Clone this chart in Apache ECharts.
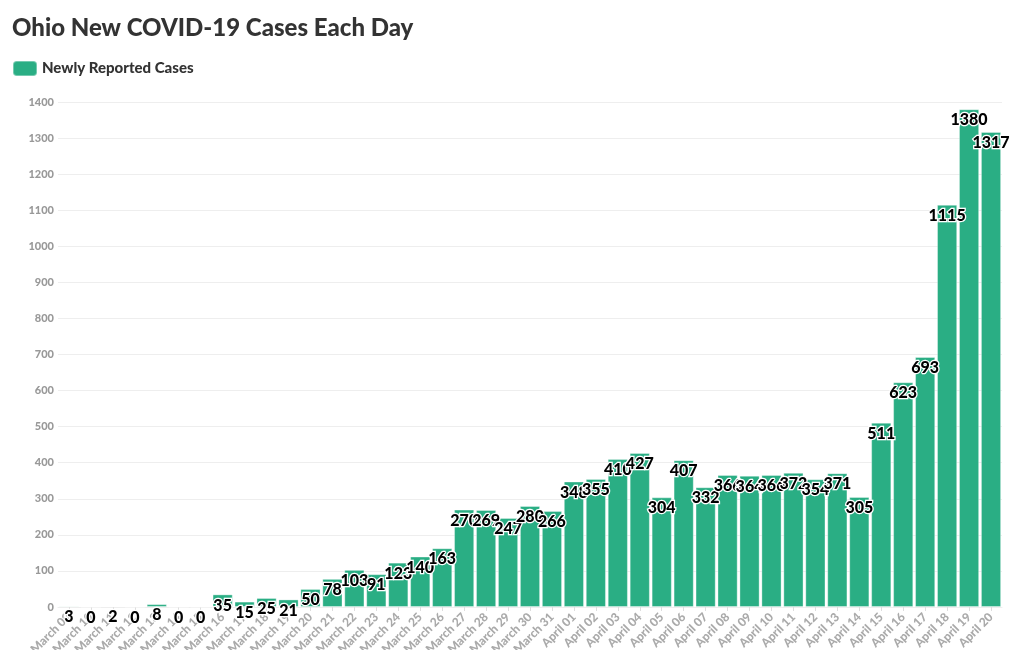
<!DOCTYPE html>
<html>
<head>
<meta charset="utf-8">
<script src="https://cdn.jsdelivr.net/npm/echarts@6/dist/echarts.min.js"></script>
<style>
  html, body { margin: 0; padding: 0; background: #fff; }
  #chart { width: 1022px; height: 650px; }
</style>
</head>
<body>
<div id="chart"></div>
<script>
var days = [
  "March 09", "March 10", "March 11", "March 12", "March 13", "March 14", "March 15",
  "March 16", "March 17", "March 18", "March 19", "March 20", "March 21", "March 22",
  "March 23", "March 24", "March 25", "March 26", "March 27", "March 28", "March 29",
  "March 30", "March 31", "April 01", "April 02", "April 03", "April 04", "April 05",
  "April 06", "April 07", "April 08", "April 09", "April 10", "April 11", "April 12",
  "April 13", "April 14", "April 15", "April 16", "April 17", "April 18", "April 19",
  "April 20"
];
var newCases = [
  3, 0, 2, 0, 8, 0, 0,
  35, 15, 25, 21, 50, 78, 103,
  91, 123, 140, 163, 270, 269, 247,
  280, 266, 348, 355, 410, 427, 304,
  407, 332, 366, 364, 366, 372, 354,
  371, 305, 511, 623, 693, 1115, 1380,
  1317
];
var seriesName = "Newly Reported Cases";

var chart = echarts.init(document.getElementById("chart"));
var option = {
  animation: false,
  textStyle: { fontFamily: "Lato" },
  title: {
    text: "Ohio New COVID-19 Cases Each Day",
    left: 7,
    top: 11,
    textStyle: { fontFamily: "Lato", fontSize: 24, fontWeight: 900, color: "#333" }
  },
  legend: {
    left: 7,
    top: 55,
    itemWidth: 24,
    itemHeight: 15,
    itemGap: 6,
    icon: "roundRect",
    textStyle: { fontFamily: "Lato", fontSize: 15, fontWeight: 900, color: "#333" },
    data: [seriesName]
  },
  grid: { left: 58, right: 20, top: 102, bottom: 43, outerBoundsMode: "none" },
  xAxis: {
    type: "category",
    data: days,
    axisLine: { show: true, lineStyle: { color: "#eee" } },
    axisTick: { show: true, alignWithLabel: true, length: 4, lineStyle: { color: "#ddd" } },
    axisLabel: {
      interval: 0,
      rotate: 45,
      color: "#aaa",
      fontWeight: 900,
      fontSize: 12,
      margin: 8
    }
  },
  yAxis: {
    type: "value",
    min: 0,
    max: 1400,
    interval: 100,
    axisLine: { show: false },
    axisTick: { show: false },
    axisLabel: {
      color: "#999",
      fontWeight: 900,
      fontSize: 11,
      margin: 4,
      formatter: function (v) { return String(v); }
    },
    splitLine: { lineStyle: { color: "#eee" } }
  },
  series: [{
    name: seriesName,
    type: "bar",
    data: newCases,
    barCategoryGap: "8%",
    itemStyle: {
      color: "#2aae84",
      borderColor: "rgba(255,255,255,0.35)",
      borderWidth: 1
    },
    label: {
      show: true,
      position: "insideTop",
      distance: 3,
      color: "#000",
      fontFamily: "Lato",
      fontWeight: 900,
      fontSize: 16,
      textBorderColor: "#fff",
      textBorderWidth: 2.5
    }
  }]
};
chart.setOption(option);
</script>
</body>
</html>
